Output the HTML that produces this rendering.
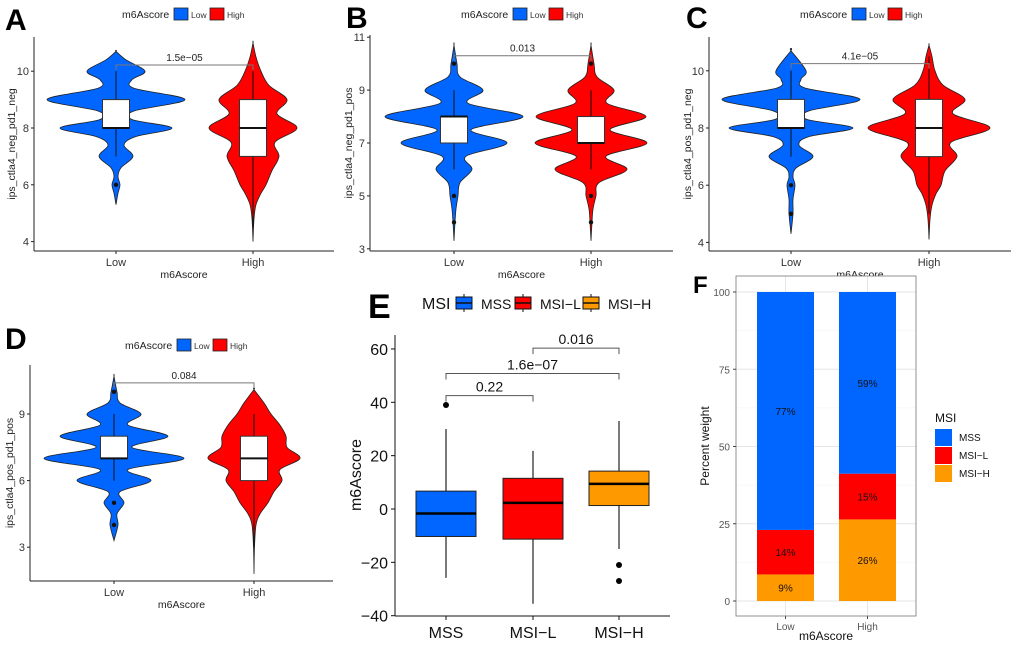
<!DOCTYPE html>
<html><head><meta charset="utf-8">
<style>
body{margin:0;background:#fff;}
svg{display:block;font-family:"Liberation Sans",Arial,sans-serif;}
</style></head>
<body>
<svg id="fig" width="1020" height="651" viewBox="0 0 1020 651"></svg>
<script>
// ===== Data: violin panels =====
const violinCats = ["Low", "High"];
const aLowVals = [5.3,5.7,6,6.3,6.6,7,7.4,7.7,8,8.3,8.6,9,9.4,9.7,10,10.4,10.7];
const aLowDens = [0,2,4,2,5,17,8,20,56,16,18,69,18,16,29,10,0];
const aHighVals = [4,4.8,5.3,5.7,6,6.5,7,7.5,8,8.5,9,9.5,10,10.5,11];
const aHighDens = [0,1,3,8,13,19,26,22,44,24,34,16,8,3,0];
const aLowBox = [7,8,8,9,10]; const aLowOut = [6];
const aHighBox = [4.5,7,8,9,10]; const aHighOut = [];
const aTicks = [4,6,8,10];

const bLowVals = [3.3,4,4.5,5,5.5,6,6.5,7,7.5,8,8.5,9,9.5,10,10.7];
const bLowDens = [0,1,2,4,6,18,12,53,17,69,14,29,6,3,0];
const bHighVals = [3.3,4,4.5,5,5.5,6,6.5,7,7.5,8,8.5,9,9.5,10,10.7];
const bHighDens = [0,1,2,5,8,36,15,56,19,55,16,23,6,3,0];
const bLowBox = [6,7,8,8,9]; const bLowOut = [10,5,4];
const bHighBox = [6,7,7,8,9]; const bHighOut = [10,5,4];
const bTicks = [3,5,7,9,11];

const cLowVals = [4.3,5,5.5,6,6.3,6.6,7,7.4,7.7,8,8.3,8.6,9,9.4,9.7,10,10.7];
const cLowDens = [0,2,2,4,2,5,22,8,18,62,16,18,69,14,10,15,0];
const cHighVals = [4.1,4.8,5.3,5.7,6,6.5,7,7.5,8,8.5,9,9.5,10,10.5,10.9];
const cHighDens = [0,1,3,7,12,16,28,22,61,24,36,14,6,3,0];
const cLowBox = [7,8,8,9,10]; const cLowOut = [6,5];
const cHighBox = [5,7,8,9,10.5]; const cHighOut = [];
const cTicks = [4,6,8,10];

const dLowVals = [3.3,4,4.5,5,5.5,6,6.5,7,7.5,8,8.5,9,9.5,10,10.7];
const dLowDens = [0,4,3,10,6,37,14,70,18,54,14,27,6,3,0];
const dHighVals = [1.8,3,4,4.5,5,5.5,6,6.5,7,7.5,8,8.5,9,9.5,10.1];
const dHighDens = [0,0.5,2,6,14,20,28,26,46,33,32,26,17,10,0];
const dLowBox = [6,7,7,8,9]; const dLowOut = [10,5,4];
const dHighBox = [3,6,7,8,9]; const dHighOut = [];
const dTicks = [3,6,9];

// ===== Data: panel E =====
const eCats = ["MSS","MSI\u2212L","MSI\u2212H"];
const eBoxes = [[-25.8,-10.3,-1.7,6.7,30],[-35.5,-11.3,2.3,11.5,21.8],[-15,1.3,9.4,14.2,33]];
const eOutliers = [[39],[],[-21,-27]];
const eTicks = [-40,-20,0,20,40,60];
const eCompLabels = ["0.22","1.6e\u221207","0.016"];
const eCompPairs = [[0,1],[0,2],[1,2]];
const eCompLevel = [42.5,50.8,60.3];

// ===== Data: panel F =====
const fCats = ["Low","High"];
const fMSIH = [8.6,26.4];
const fMSIL = [14.4,14.8];
const fMSS = [77,58.8];
const fLabelsMSIH = ["9%","26%"];
const fLabelsMSIL = ["14%","15%"];
const fLabelsMSS = ["77%","59%"];
const fTicks = [0,25,50,75,100];

const BLUE="#0066FF", RED="#FF0000", ORANGE="#FF9900";
const NS="http://www.w3.org/2000/svg";
const svg=document.getElementById('fig');
function el(tag,attrs,parent,text){const e=document.createElementNS(NS,tag);for(const k in attrs)e.setAttribute(k,attrs[k]);if(text!==undefined)e.textContent=text;(parent||svg).appendChild(e);return e;}

function crPath(pts){
  let d="M"+pts[0][0].toFixed(2)+","+pts[0][1].toFixed(2);
  for(let i=0;i<pts.length-1;i++){
    const p0=pts[i-1]||pts[i],p1=pts[i],p2=pts[i+1],p3=pts[i+2]||p2;
    const c1=[p1[0]+(p2[0]-p0[0])/6,p1[1]+(p2[1]-p0[1])/6];
    const c2=[p2[0]-(p3[0]-p1[0])/6,p2[1]-(p3[1]-p1[1])/6];
    d+="C"+c1[0].toFixed(2)+","+c1[1].toFixed(2)+" "+c2[0].toFixed(2)+","+c2[1].toFixed(2)+" "+p2[0].toFixed(2)+","+p2[1].toFixed(2);
  }
  return d;
}

function violinPanel(P){
  const g=el('g',{});
  
  
  const y=v=>P.y0-(v-P.v0)*P.ppu;
  const t=el('text',{x:P.letterX,y:P.letterY,'font-size':30,'font-weight':'bold'},g,P.letter);
  
  // legend
  const lg=el('g',{},g);
  
  el('text',{x:P.legX,y:P.legY+4,'font-size':10.5,fill:'#222'},lg,'m6Ascore');
  el('rect',{x:P.legX+52,y:P.legY-6,width:14,height:12,fill:BLUE,stroke:'#222','stroke-width':0.8},lg);
  el('text',{x:P.legX+69,y:P.legY+4,'font-size':8.5,fill:'#333'},lg,'Low');
  el('rect',{x:P.legX+88,y:P.legY-6,width:14,height:12,fill:RED,stroke:'#222','stroke-width':0.8},lg);
  el('text',{x:P.legX+105,y:P.legY+4,'font-size':8.5,fill:'#333'},lg,'High');
  // axes
  const ax=el('g',{},g);
  el('line',{x1:P.ax,y1:P.axTop,x2:P.ax,y2:P.axBot,stroke:'#222','stroke-width':1},ax);
  el('line',{x1:P.ax,y1:P.axBot,x2:P.axRight,y2:P.axBot,stroke:'#222','stroke-width':1},ax);
  P.ticks.forEach(v=>{
    el('line',{x1:P.ax-3,y1:y(v),x2:P.ax,y2:y(v),stroke:'#222'},ax);
    const tt=el('text',{x:P.ax-5,y:y(v)+4,'font-size':11,'text-anchor':'end',fill:'#333'},ax,String(v));
    
  });
  const cx=[P.cxLow,P.cxHigh];
  violinCats.forEach((c,i)=>{
    el('line',{x1:cx[i],y1:P.axBot,x2:cx[i],y2:P.axBot+3,stroke:'#222'},ax);
    const tt=el('text',{x:cx[i],y:P.axBot+15,'font-size':11,'text-anchor':'middle',fill:'#333'},ax,c);
    
  });
  const xt=el('text',{x:(P.ax+P.axRight)/2,y:P.axBot+27,'font-size':10.5,'text-anchor':'middle',fill:'#222'},ax,'m6Ascore');
  
  const yc=(P.axTop+P.axBot)/2;
  const yt=el('text',{x:P.ytX,y:yc,'font-size':10.5,'text-anchor':'middle',fill:'#222',transform:`rotate(-90 ${P.ytX} ${yc})`},ax,P.ytitle);
  
  // violins
  const sets=[[P.lowVals,P.lowDens,P.lowBox,P.lowOut,BLUE,'low'],[P.highVals,P.highDens,P.highBox,P.highOut,RED,'high']];
  sets.forEach((s,i)=>{
    const [vals,dens,box,outs,col,nm]=s;
    const right=vals.map((v,k)=>[cx[i]+dens[k],y(v)]);
    const left=vals.map((v,k)=>[cx[i]-dens[k],y(v)]).reverse();
    const pts=right.concat(left);
    const vp=el('path',{d:crPath(pts)+'Z',fill:col,stroke:'#222','stroke-width':0.8},g);
    
    const bw=13.5;
    el('line',{x1:cx[i],y1:y(box[0]),x2:cx[i],y2:y(box[4]),stroke:'#111','stroke-width':1},g);
    const br=el('rect',{x:cx[i]-bw,y:y(box[3]),width:2*bw,height:y(box[1])-y(box[3]),fill:'#fff',stroke:'#333','stroke-width':1},g);
    
    el('line',{x1:cx[i]-bw,y1:y(box[2]),x2:cx[i]+bw,y2:y(box[2]),stroke:'#111','stroke-width':2},g);
    outs.forEach(o=>{const c=el('circle',{cx:cx[i],cy:y(o),r:2.2,fill:'#111'},g);});
  });
  // bracket
  const by=y(P.brV);
  const bp=el('path',{d:`M${cx[0]},${by+5}V${by}H${cx[1]}V${by+5}`,fill:'none',stroke:'#777','stroke-width':1},g);
  
  const pt=el('text',{x:(cx[0]+cx[1])/2,y:by-4,'font-size':10,'text-anchor':'middle',fill:'#222'},g,P.pval);
  
}

violinPanel({name:'panel-a',letter:'A',letterX:5,letterY:30,legX:122,legY:14,ax:34,axTop:37,axBot:251,axRight:334,y0:128,v0:8,ppu:28.4,cxLow:116,cxHigh:253,ticks:aTicks,ytX:15,ytitle:'ips_ctla4_neg_pd1_neg',lowVals:aLowVals,lowDens:aLowDens,lowBox:aLowBox,lowOut:aLowOut,highVals:aHighVals,highDens:aHighDens,highBox:aHighBox,highOut:aHighOut,brV:10.22,pval:'1.5e\u221205'});
violinPanel({name:'panel-b',letter:'B',letterX:346,letterY:28,legX:461,legY:14,ax:370,axTop:35,axBot:251,axRight:673,y0:143,v0:7,ppu:26.45,cxLow:454,cxHigh:591,ticks:bTicks,ytX:352,ytitle:'ips_ctla4_neg_pd1_pos',lowVals:bLowVals,lowDens:bLowDens,lowBox:bLowBox,lowOut:bLowOut,highVals:bHighVals,highDens:bHighDens,highBox:bHighBox,highOut:bHighOut,brV:10.3,pval:'0.013'});
violinPanel({name:'panel-c',letter:'C',letterX:686,letterY:28,legX:800,legY:14,ax:709,axTop:37,axBot:251,axRight:1011,y0:128,v0:8,ppu:28.6,cxLow:791,cxHigh:929,ticks:cTicks,ytX:691,ytitle:'ips_ctla4_pos_pd1_neg',lowVals:cLowVals,lowDens:cLowDens,lowBox:cLowBox,lowOut:cLowOut,highVals:cHighVals,highDens:cHighDens,highBox:cHighBox,highOut:cHighOut,brV:10.25,pval:'4.1e\u221205'});
violinPanel({name:'panel-d',letter:'D',letterX:5,letterY:349,legX:125,legY:345,ax:30,axTop:365,axBot:581,axRight:333,y0:414,v0:9,ppu:22.2,cxLow:114,cxHigh:254,ticks:dTicks,ytX:13,ytitle:'ips_ctla4_pos_pd1_pos',lowVals:dLowVals,lowDens:dLowDens,lowBox:dLowBox,lowOut:dLowOut,highVals:dHighVals,highDens:dHighDens,highBox:dHighBox,highOut:dHighOut,brV:10.4,pval:'0.084'});

// ===== Panel E =====
(function(){
  const g=el('g',{});
  const ax=395,axTop=335,axBot=616,axRight=670;
  const y=v=>509-v*(53.35/20);
  const xs=[446,533,619];
  const cols=[BLUE,RED,ORANGE];
  const t=el('text',{x:368,y:318,'font-size':34,'font-weight':'bold'},g,'E');
  
  // legend
  const lg=el('g',{},g);
  el('text',{x:422,y:309,'font-size':16,fill:'#111'},lg,'MSI');
  const lx=[456,515,583];
  eCats.forEach((c,i)=>{
    el('line',{x1:lx[i]+8,y1:294,x2:lx[i]+8,y2:312,stroke:'#111'},lg);
    const r=el('rect',{x:lx[i],y:297,width:16,height:12,fill:cols[i],stroke:'#111','stroke-width':1},lg);
    
    el('line',{x1:lx[i],y1:303,x2:lx[i]+16,y2:303,stroke:'#111','stroke-width':1.5},lg);
    el('text',{x:lx[i]+25,y:309,'font-size':14,fill:'#111'},lg,c);
  });
  el('line',{x1:ax,y1:axTop,x2:ax,y2:axBot,stroke:'#111'},g);
  el('line',{x1:ax,y1:axBot,x2:axRight,y2:axBot,stroke:'#111'},g);
  eTicks.forEach(v=>{
    el('line',{x1:ax-4,y1:y(v),x2:ax,y2:y(v),stroke:'#111'},g);
    const tt=el('text',{x:ax-7,y:y(v)+6,'font-size':16,'text-anchor':'end',fill:'#111'},g,String(v).replace('-','\u2212'));
    
  });
  eCats.forEach((c,i)=>{
    el('line',{x1:xs[i],y1:axBot,x2:xs[i],y2:axBot+4,stroke:'#111'},g);
    const tt=el('text',{x:xs[i],y:axBot+22,'font-size':16,'text-anchor':'middle',fill:'#111'},g,c);
    
  });
  const yt=el('text',{x:361,y:475,'font-size':16,'text-anchor':'middle',fill:'#111',transform:'rotate(-90 361 475)'},g,'m6Ascore');
  
  eBoxes.forEach((b,i)=>{
    el('line',{x1:xs[i],y1:y(b[0]),x2:xs[i],y2:y(b[4]),stroke:'#222','stroke-width':1.2},g);
    const r=el('rect',{x:xs[i]-30,y:y(b[3]),width:60,height:y(b[1])-y(b[3]),fill:cols[i],stroke:'#222','stroke-width':1},g);
    
    el('line',{x1:xs[i]-30,y1:y(b[2]),x2:xs[i]+30,y2:y(b[2]),stroke:'#000','stroke-width':2.5},g);
    eOutliers[i].forEach(o=>{const c=el('circle',{cx:xs[i],cy:y(o),r:3,fill:'#000'},g);});
  });
  eCompPairs.forEach((p,k)=>{
    const by=y(eCompLevel[k]);
    const bp=el('path',{d:`M${xs[p[0]]},${by+6}V${by}H${xs[p[1]]}V${by+6}`,fill:'none',stroke:'#555','stroke-width':1},g);
    
    const tt=el('text',{x:(xs[p[0]]+xs[p[1]])/2,y:by-4,'font-size':14,'text-anchor':'middle',fill:'#111'},g,eCompLabels[k]);
    
  });
})();

// ===== Panel F =====
(function(){
  const g=el('g',{});
  const L=736,R=916,T=276,B=616;
  const y=v=>601-v*(309/100);
  const xc=[785.5,867.5],hw=28.5;
  el('rect',{x:L,y:T,width:R-L,height:B-T,fill:'#fff'},g);
  [12.5,37.5,62.5,87.5].forEach(v=>el('line',{x1:L,y1:y(v),x2:R,y2:y(v),stroke:'#f0f0f0','stroke-width':0.6},g));
  fTicks.forEach(v=>el('line',{x1:L,y1:y(v),x2:R,y2:y(v),stroke:'#e6e6e6','stroke-width':1},g));
  xc.forEach(x=>el('line',{x1:x,y1:T,x2:x,y2:B,stroke:'#e6e6e6','stroke-width':1},g));
  const t=el('text',{x:693,y:293,'font-size':24,'font-weight':'bold'},g,'F');
  
  fCats.forEach((c,i)=>{
    const segs=[[0,fMSIH[i],ORANGE,fLabelsMSIH[i],'msi-h'],[fMSIH[i],fMSIL[i],RED,fLabelsMSIL[i],'msi-l'],[fMSIH[i]+fMSIL[i],fMSS[i],BLUE,fLabelsMSS[i],'mss']];
    segs.forEach(s=>{
      const r=el('rect',{x:xc[i]-hw,y:y(s[0]+s[1]),width:2*hw,height:y(s[0])-y(s[0]+s[1]),fill:s[2]},g);
      
      const tt=el('text',{x:xc[i],y:y(s[0]+s[1]/2)+4,'font-size':10,'text-anchor':'middle',fill:'#111'},g,s[3]);
      
    });
    el('line',{x1:xc[i],y1:B,x2:xc[i],y2:B+3,stroke:'#444'},g);
    const xl=el('text',{x:xc[i],y:B+14,'font-size':10,'text-anchor':'middle',fill:'#555'},g,c);
    
  });
  el('rect',{x:L,y:T,width:R-L,height:B-T,fill:'none',stroke:'#777','stroke-width':0.8},g);
  fTicks.forEach(v=>{
    el('line',{x1:L-3,y1:y(v),x2:L,y2:y(v),stroke:'#444'},g);
    const tt=el('text',{x:L-6,y:y(v)+4,'font-size':10,'text-anchor':'end',fill:'#555'},g,String(v));
    
  });
  const xt=el('text',{x:826,y:640,'font-size':12,'text-anchor':'middle',fill:'#111'},g,'m6Ascore');
  
  const yt=el('text',{x:709,y:446,'font-size':12,'text-anchor':'middle',fill:'#111',transform:'rotate(-90 709 446)'},g,'Percent weight');
  
  const lg=el('g',{},g);
  el('text',{x:935,y:422,'font-size':12,fill:'#111'},lg,'MSI');
  [[BLUE,'MSS'],[RED,'MSI\u2212L'],[ORANGE,'MSI\u2212H']].forEach((k,i)=>{
    const r=el('rect',{x:935,y:429+i*18,width:17,height:17,fill:k[0]},lg);
    
    el('text',{x:959,y:441+i*18,'font-size':10,fill:'#111'},lg,k[1]);
  });
})();
</script>
</body></html>
